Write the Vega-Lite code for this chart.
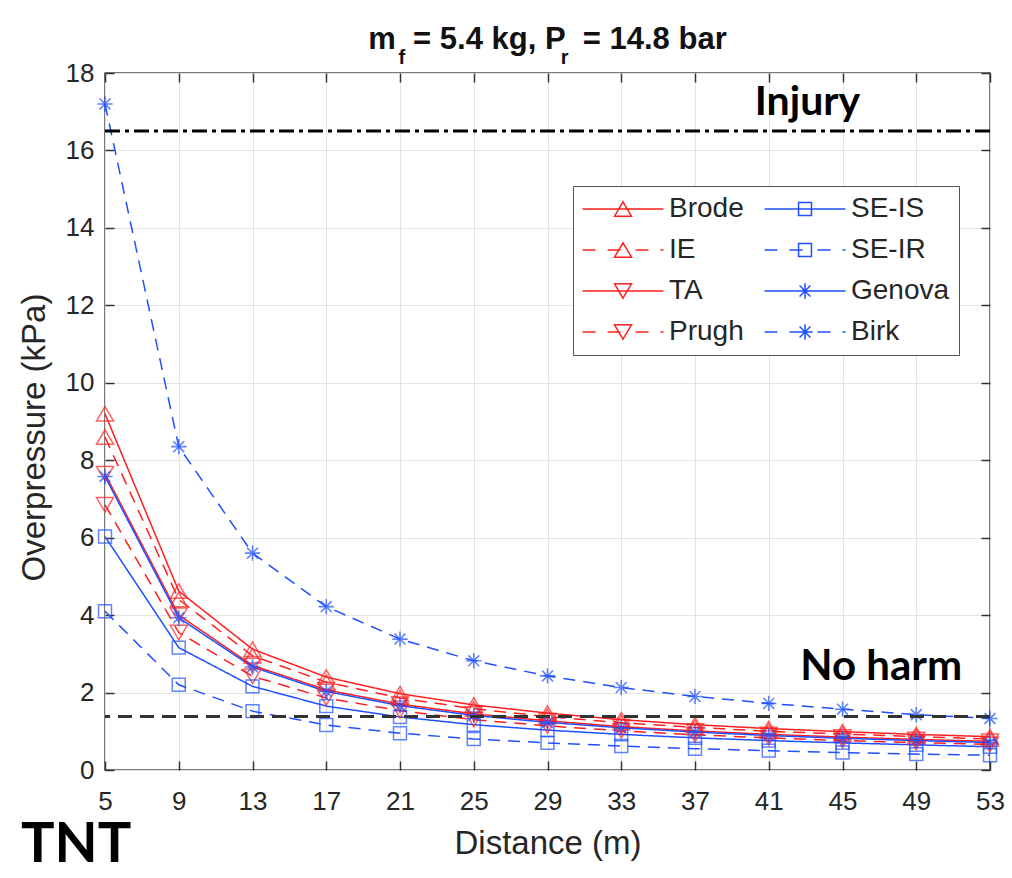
{
  "$schema": "https://vega.github.io/schema/vega-lite/v6.json",
  "width": 885,
  "height": 697,
  "autosize": {"type": "none"},
  "padding": {"left": 105, "top": 73, "right": 22, "bottom": 108},
  "background": "white",
  "title": {
    "text": "m\u00a0\u00a0= 5.4 kg, P\u00a0\u00a0= 14.8 bar",
    "subtitle": "f\u00a0\u00a0\u00a0\u00a0\u00a0\u00a0\u00a0\u00a0\u00a0\u00a0\u00a0\u00a0\u00a0\u00a0\u00a0\u00a0\u00a0\u00a0\u00a0\u00a0\u00a0\u00a0\u00a0\u00a0\u00a0\u00a0\u00a0\u00a0r\u00a0\u00a0\u00a0\u00a0\u00a0\u00a0\u00a0\u00a0\u00a0\u00a0\u00a0\u00a0\u00a0\u00a0\u00a0\u00a0\u00a0\u00a0\u00a0\u00a0\u00a0\u00a0\u00a0\u200b",
    "font": "Liberation Sans",
    "fontSize": 31,
    "fontWeight": "bold",
    "color": "#111111",
    "subtitleFont": "Liberation Sans",
    "subtitleFontSize": 20,
    "subtitleFontWeight": "bold",
    "subtitleColor": "#111111",
    "subtitlePadding": -8,
    "anchor": "middle",
    "frame": "group",
    "offset": -9
  },
  "datasets": {
    "pts": [
      {"series": "Brode", "distance": 5, "overpressure": 9.2},
      {"series": "Brode", "distance": 9, "overpressure": 4.62},
      {"series": "Brode", "distance": 13, "overpressure": 3.12},
      {"series": "Brode", "distance": 17, "overpressure": 2.4},
      {"series": "Brode", "distance": 21, "overpressure": 1.97},
      {"series": "Brode", "distance": 25, "overpressure": 1.68},
      {"series": "Brode", "distance": 29, "overpressure": 1.47},
      {"series": "Brode", "distance": 33, "overpressure": 1.3},
      {"series": "Brode", "distance": 37, "overpressure": 1.17},
      {"series": "Brode", "distance": 41, "overpressure": 1.07},
      {"series": "Brode", "distance": 45, "overpressure": 0.99},
      {"series": "Brode", "distance": 49, "overpressure": 0.92},
      {"series": "Brode", "distance": 53, "overpressure": 0.86},
      {"series": "IE", "distance": 5, "overpressure": 8.6},
      {"series": "IE", "distance": 9, "overpressure": 4.4},
      {"series": "IE", "distance": 13, "overpressure": 2.95},
      {"series": "IE", "distance": 17, "overpressure": 2.27},
      {"series": "IE", "distance": 21, "overpressure": 1.86},
      {"series": "IE", "distance": 25, "overpressure": 1.58},
      {"series": "IE", "distance": 29, "overpressure": 1.38},
      {"series": "IE", "distance": 33, "overpressure": 1.22},
      {"series": "IE", "distance": 37, "overpressure": 1.1},
      {"series": "IE", "distance": 41, "overpressure": 1.0},
      {"series": "IE", "distance": 45, "overpressure": 0.93},
      {"series": "IE", "distance": 49, "overpressure": 0.86},
      {"series": "IE", "distance": 53, "overpressure": 0.8},
      {"series": "TA", "distance": 5, "overpressure": 7.65},
      {"series": "TA", "distance": 9, "overpressure": 4.0},
      {"series": "TA", "distance": 13, "overpressure": 2.7},
      {"series": "TA", "distance": 17, "overpressure": 2.07},
      {"series": "TA", "distance": 21, "overpressure": 1.7},
      {"series": "TA", "distance": 25, "overpressure": 1.45},
      {"series": "TA", "distance": 29, "overpressure": 1.27},
      {"series": "TA", "distance": 33, "overpressure": 1.12},
      {"series": "TA", "distance": 37, "overpressure": 1.01},
      {"series": "TA", "distance": 41, "overpressure": 0.92},
      {"series": "TA", "distance": 45, "overpressure": 0.85},
      {"series": "TA", "distance": 49, "overpressure": 0.79},
      {"series": "TA", "distance": 53, "overpressure": 0.74},
      {"series": "Prugh", "distance": 5, "overpressure": 6.85},
      {"series": "Prugh", "distance": 9, "overpressure": 3.55},
      {"series": "Prugh", "distance": 13, "overpressure": 2.42},
      {"series": "Prugh", "distance": 17, "overpressure": 1.86},
      {"series": "Prugh", "distance": 21, "overpressure": 1.53},
      {"series": "Prugh", "distance": 25, "overpressure": 1.3},
      {"series": "Prugh", "distance": 29, "overpressure": 1.14},
      {"series": "Prugh", "distance": 33, "overpressure": 1.01},
      {"series": "Prugh", "distance": 37, "overpressure": 0.91},
      {"series": "Prugh", "distance": 41, "overpressure": 0.83},
      {"series": "Prugh", "distance": 45, "overpressure": 0.76},
      {"series": "Prugh", "distance": 49, "overpressure": 0.71},
      {"series": "Prugh", "distance": 53, "overpressure": 0.66},
      {"series": "SE-IS", "distance": 5, "overpressure": 6.03},
      {"series": "SE-IS", "distance": 9, "overpressure": 3.16},
      {"series": "SE-IS", "distance": 13, "overpressure": 2.16},
      {"series": "SE-IS", "distance": 17, "overpressure": 1.65},
      {"series": "SE-IS", "distance": 21, "overpressure": 1.37},
      {"series": "SE-IS", "distance": 25, "overpressure": 1.17},
      {"series": "SE-IS", "distance": 29, "overpressure": 1.03},
      {"series": "SE-IS", "distance": 33, "overpressure": 0.92},
      {"series": "SE-IS", "distance": 37, "overpressure": 0.83},
      {"series": "SE-IS", "distance": 41, "overpressure": 0.76},
      {"series": "SE-IS", "distance": 45, "overpressure": 0.7},
      {"series": "SE-IS", "distance": 49, "overpressure": 0.65},
      {"series": "SE-IS", "distance": 53, "overpressure": 0.6},
      {"series": "SE-IR", "distance": 5, "overpressure": 4.1},
      {"series": "SE-IR", "distance": 9, "overpressure": 2.2},
      {"series": "SE-IR", "distance": 13, "overpressure": 1.52},
      {"series": "SE-IR", "distance": 17, "overpressure": 1.16},
      {"series": "SE-IR", "distance": 21, "overpressure": 0.95},
      {"series": "SE-IR", "distance": 25, "overpressure": 0.8},
      {"series": "SE-IR", "distance": 29, "overpressure": 0.7},
      {"series": "SE-IR", "distance": 33, "overpressure": 0.62},
      {"series": "SE-IR", "distance": 37, "overpressure": 0.55},
      {"series": "SE-IR", "distance": 41, "overpressure": 0.5},
      {"series": "SE-IR", "distance": 45, "overpressure": 0.45},
      {"series": "SE-IR", "distance": 49, "overpressure": 0.41},
      {"series": "SE-IR", "distance": 53, "overpressure": 0.38},
      {"series": "Genova", "distance": 5, "overpressure": 7.58},
      {"series": "Genova", "distance": 9, "overpressure": 3.93},
      {"series": "Genova", "distance": 13, "overpressure": 2.66},
      {"series": "Genova", "distance": 17, "overpressure": 2.03},
      {"series": "Genova", "distance": 21, "overpressure": 1.66},
      {"series": "Genova", "distance": 25, "overpressure": 1.41},
      {"series": "Genova", "distance": 29, "overpressure": 1.23},
      {"series": "Genova", "distance": 33, "overpressure": 1.09},
      {"series": "Genova", "distance": 37, "overpressure": 0.98},
      {"series": "Genova", "distance": 41, "overpressure": 0.89},
      {"series": "Genova", "distance": 45, "overpressure": 0.82},
      {"series": "Genova", "distance": 49, "overpressure": 0.76},
      {"series": "Genova", "distance": 53, "overpressure": 0.71},
      {"series": "Birk", "distance": 5, "overpressure": 17.2},
      {"series": "Birk", "distance": 9, "overpressure": 8.35},
      {"series": "Birk", "distance": 13, "overpressure": 5.6},
      {"series": "Birk", "distance": 17, "overpressure": 4.22},
      {"series": "Birk", "distance": 21, "overpressure": 3.38},
      {"series": "Birk", "distance": 25, "overpressure": 2.82},
      {"series": "Birk", "distance": 29, "overpressure": 2.43},
      {"series": "Birk", "distance": 33, "overpressure": 2.13},
      {"series": "Birk", "distance": 37, "overpressure": 1.9},
      {"series": "Birk", "distance": 41, "overpressure": 1.72},
      {"series": "Birk", "distance": 45, "overpressure": 1.57},
      {"series": "Birk", "distance": 49, "overpressure": 1.43},
      {"series": "Birk", "distance": 53, "overpressure": 1.33}
    ]
  },
  "layer": [
    {
      "data": {"name": "pts"},
      "mark": {"type": "point", "filled": false, "opacity": 0, "strokeWidth": 1.5},
      "encoding": {
        "x": {"field": "distance", "type": "quantitative", "axis": null},
        "y": {"field": "overpressure", "type": "quantitative", "axis": null},
        "color": {
          "field": "series", "type": "nominal",
          "scale": {
            "domain": ["Brode", "IE", "TA", "Prugh", "SE-IS", "SE-IR", "Genova", "Birk"],
            "range": ["#ff1f1f", "#ff1f1f", "#ff1f1f", "#ff1f1f", "#1f4fff", "#1f4fff", "#1f4fff", "#1f4fff"]
          },
          "legend": {
            "title": null, "orient": "none", "legendX": 468, "legendY": 113,
            "columns": 2, "columnPadding": 17, "rowPadding": 13, "padding": 9,
            "fillColor": "white", "strokeColor": "#555555",
            "labelFont": "Liberation Sans", "labelFontSize": 28, "labelColor": "#262626", "labelLimit": 300,
            "symbolSize": 289, "symbolStrokeWidth": 1.5, "symbolOpacity": 1,
            "symbolOffset": 27, "labelOffset": 32
          }
        },
        "shape": {
          "field": "series", "type": "nominal",
          "scale": {
            "domain": ["Brode", "IE", "TA", "Prugh", "SE-IS", "SE-IR", "Genova", "Birk"],
            "range": [
              "M-4.76,0L4.76,0M0,-0.85L1,0.85L-1,0.85Z",
              "M-4.76,0L-3.24,0M-1.82,0L-0.29,0M1.47,0L3,0M4.41,0L4.76,0M0,-0.85L1,0.85L-1,0.85Z",
              "M-4.76,0L4.76,0M0,0.85L1,-0.85L-1,-0.85Z",
              "M-4.76,0L-3.24,0M-1.82,0L-0.29,0M1.47,0L3,0M4.41,0L4.76,0M0,0.85L1,-0.85L-1,-0.85Z",
              "M-4.76,0L4.76,0M-0.76,-0.76L0.76,-0.76L0.76,0.76L-0.76,0.76Z",
              "M-4.76,0L-3.24,0M-1.82,0L-0.29,0M1.47,0L3,0M4.41,0L4.76,0M-0.76,-0.76L0.76,-0.76L0.76,0.76L-0.76,0.76Z",
              "M-4.76,0L4.76,0M-0.9,0L0.9,0M0,-0.9L0,0.9M-0.64,-0.64L0.64,0.64M-0.64,0.64L0.64,-0.64",
              "M-4.76,0L-3.24,0M-1.82,0L-0.29,0M1.47,0L3,0M4.41,0L4.76,0M-0.9,0L0.9,0M0,-0.9L0,0.9M-0.64,-0.64L0.64,0.64M-0.64,0.64L0.64,-0.64"
            ]
          },
          "legend": {
            "title": null, "orient": "none", "legendX": 468, "legendY": 113,
            "columns": 2, "columnPadding": 17, "rowPadding": 13, "padding": 9,
            "fillColor": "white", "strokeColor": "#555555",
            "labelFont": "Liberation Sans", "labelFontSize": 28, "labelColor": "#262626", "labelLimit": 300,
            "symbolSize": 289, "symbolStrokeWidth": 1.5, "symbolOpacity": 1,
            "symbolOffset": 27, "labelOffset": 32
          }
        }
      }
    },
    {
      "data": {"name": "pts"},
      "mark": {"type": "line", "strokeWidth": 1.5},
      "encoding": {
        "x": {
          "field": "distance", "type": "quantitative",
          "scale": {"domain": [5, 53], "nice": false, "zero": false},
          "axis": {
            "values": [5, 9, 13, 17, 21, 25, 29, 33, 37, 41, 45, 49, 53],
            "title": "Distance (m)",
            "titleFont": "Liberation Sans", "titleFontSize": 33, "titleFontWeight": "normal", "titleColor": "#262626", "titlePadding": 13,
            "labelFont": "Liberation Sans", "labelFontSize": 26, "labelColor": "#262626", "labelPadding": 27, "labelFlush": false, "labelOverlap": false,
            "tickSize": -9, "tickColor": "#333333", "tickWidth": 1.5,
            "domain": false,
            "grid": true, "gridColor": "#e3e3e3", "gridWidth": 1
          }
        },
        "y": {
          "field": "overpressure", "type": "quantitative",
          "scale": {"domain": [0, 18], "nice": false, "zero": false},
          "axis": {
            "values": [0, 2, 4, 6, 8, 10, 12, 14, 16, 18],
            "title": "Overpressure (kPa)",
            "titleY": 364,
            "titleFont": "Liberation Sans", "titleFontSize": 33, "titleFontWeight": "normal", "titleColor": "#262626", "titlePadding": 14,
            "labelFont": "Liberation Sans", "labelFontSize": 26, "labelColor": "#262626", "labelPadding": 20, "labelOverlap": false,
            "tickSize": -9, "tickColor": "#333333", "tickWidth": 1.5,
            "domain": false,
            "grid": true, "gridColor": "#e3e3e3", "gridWidth": 1
          }
        },
        "color": {"field": "series", "type": "nominal"},
        "strokeDash": {
          "field": "series", "type": "nominal",
          "scale": {
            "domain": ["Birk", "Genova", "SE-IR", "SE-IS", "Prugh", "TA", "IE", "Brode"],
            "range": [[12, 8], [1, 0], [12, 8], [1, 0], [12, 8], [1, 0], [12, 8], [1, 0]]
          },
          "legend": null
        }
      }
    },
    {
      "data": {"name": "pts"},
      "transform": [{"filter": {"field": "series", "oneOf": ["Brode", "IE"]}}],
      "mark": {"type": "point", "filled": false, "strokeWidth": 1.5, "size": 289, "shape": "M0,-0.85L1,0.85L-1,0.85Z"},
      "encoding": {
        "x": {
          "field": "distance", "type": "quantitative",
          "axis": {
            "orient": "top", "values": [5, 9, 13, 17, 21, 25, 29, 33, 37, 41, 45, 49, 53],
            "labels": false, "title": null, "grid": false, "domain": false,
            "tickSize": -9, "tickColor": "#333333", "tickWidth": 1.5
          }
        },
        "y": {
          "field": "overpressure", "type": "quantitative",
          "axis": {
            "orient": "right", "values": [0, 2, 4, 6, 8, 10, 12, 14, 16, 18],
            "labels": false, "title": null, "grid": false, "domain": false,
            "tickSize": -9, "tickColor": "#333333", "tickWidth": 1.5
          }
        },
        "color": {"field": "series", "type": "nominal"}
      }
    },
    {
      "data": {"name": "pts"},
      "transform": [{"filter": {"field": "series", "oneOf": ["TA", "Prugh"]}}],
      "mark": {"type": "point", "filled": false, "strokeWidth": 1.5, "size": 289, "shape": "M0,0.85L1,-0.85L-1,-0.85Z"},
      "encoding": {
        "x": {"field": "distance", "type": "quantitative", "axis": null},
        "y": {"field": "overpressure", "type": "quantitative", "axis": null},
        "color": {"field": "series", "type": "nominal"}
      }
    },
    {
      "data": {"name": "pts"},
      "transform": [{"filter": {"field": "series", "oneOf": ["SE-IS", "SE-IR"]}}],
      "mark": {"type": "point", "filled": false, "strokeWidth": 1.5, "size": 289, "shape": "M-0.76,-0.76L0.76,-0.76L0.76,0.76L-0.76,0.76Z"},
      "encoding": {
        "x": {"field": "distance", "type": "quantitative", "axis": null},
        "y": {"field": "overpressure", "type": "quantitative", "axis": null},
        "color": {"field": "series", "type": "nominal"}
      }
    },
    {
      "data": {"name": "pts"},
      "transform": [{"filter": {"field": "series", "oneOf": ["Genova", "Birk"]}}],
      "mark": {"type": "point", "filled": false, "strokeWidth": 1.6, "size": 289, "shape": "M-0.9,0L0.9,0M0,-0.9L0,0.9M-0.64,-0.64L0.64,0.64M-0.64,0.64L0.64,-0.64"},
      "encoding": {
        "x": {"field": "distance", "type": "quantitative", "axis": null},
        "y": {"field": "overpressure", "type": "quantitative", "axis": null},
        "color": {"field": "series", "type": "nominal"}
      }
    },
    {
      "data": {"values": [{}]},
      "mark": {"type": "rule", "color": "#000000", "strokeWidth": 3, "strokeDash": [15, 5, 4, 5]},
      "encoding": {
        "y": {"datum": 16.5, "type": "quantitative", "axis": null}
      }
    },
    {
      "data": {"values": [{}]},
      "mark": {"type": "rule", "color": "#333333", "strokeWidth": 3, "strokeDash": [14, 8]},
      "encoding": {
        "y": {"datum": 1.38, "type": "quantitative", "axis": null}
      }
    },
    {
      "data": {"values": [{}]},
      "mark": {"type": "text", "font": "Lato", "fontWeight": "bold", "fontSize": 41, "align": "center", "baseline": "alphabetic", "color": "#000000"},
      "encoding": {
        "x": {"datum": 43.1, "type": "quantitative", "axis": null},
        "y": {"datum": 16.92, "type": "quantitative", "axis": null},
        "text": {"value": "Injury"}
      }
    },
    {
      "data": {"values": [{}]},
      "mark": {"type": "text", "font": "Lato", "fontWeight": "bold", "fontSize": 42, "align": "center", "baseline": "alphabetic", "color": "#000000"},
      "encoding": {
        "x": {"datum": 47.1, "type": "quantitative", "axis": null},
        "y": {"datum": 2.33, "type": "quantitative", "axis": null},
        "text": {"value": "No harm"}
      }
    },
    {
      "data": {"values": [{}]},
      "mark": {"type": "text", "font": "Lato", "fontWeight": "bold", "fontSize": 56, "align": "center", "baseline": "alphabetic", "color": "#000000"},
      "encoding": {
        "x": {"datum": 3.43, "type": "quantitative", "axis": null},
        "y": {"datum": -2.38, "type": "quantitative", "axis": null},
        "text": {"value": "TNT"}
      }
    }
  ],
  "resolve": {"axis": {"x": "independent", "y": "independent"}},
  "config": {
    "view": {"stroke": "#4d4d4d", "strokeWidth": 1.5},
    "font": "Liberation Sans"
  }
}
